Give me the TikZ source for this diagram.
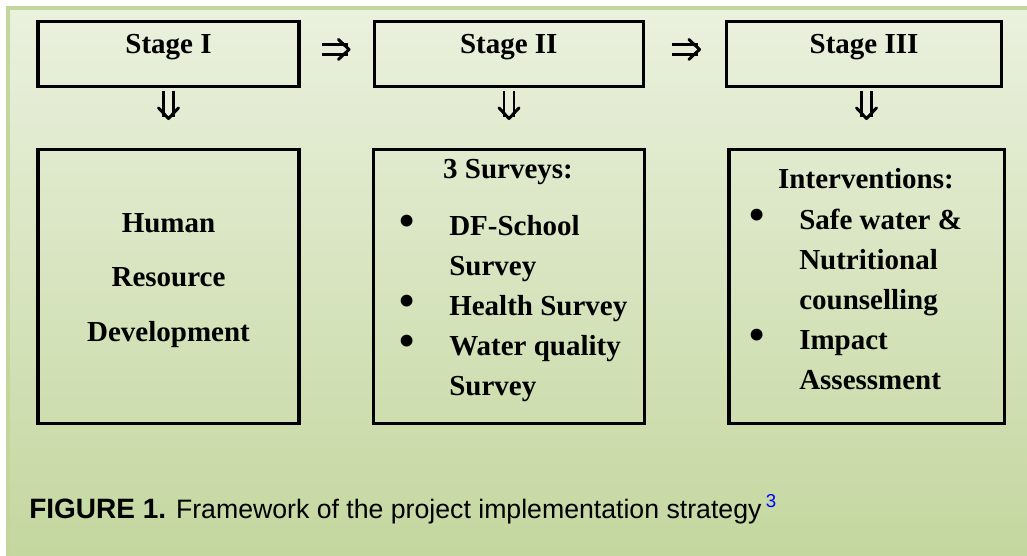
\documentclass[tikz,border=0pt]{standalone}
\usepackage{fontspec}
\setmainfont{Liberation Serif}
\setsansfont{Liberation Sans}
\usetikzlibrary{arrows.meta}

\definecolor{panetop}{HTML}{EAF1DE}
\definecolor{panebottom}{HTML}{C4D79F}
\definecolor{paneline}{HTML}{C3D69B}
\definecolor{gapgreen}{HTML}{E7EFDA}
\definecolor{refblue}{HTML}{0000FF}

\newcommand\bul{\makebox[0pt]{\scalebox{1.5}{\textbullet}}}

\begin{document}
\begin{tikzpicture}
[x=0.75pt,y=-0.75pt,font=\fontsize{21.75}{30}\selectfont\bfseries,
                    stage node/.style={draw,line width=2.6pt,inner sep=0pt,text height=24.2pt,text depth=24.2pt},
                    box node/.style={draw,line width=2.6pt,minimum height=205.1pt},
                    text node/.style={inner sep=0pt},
                    imp/.style={double=gapgreen,double distance=5.6pt,line width=1.8pt,
                      -{Straight Barb[length=8pt,width=15pt,line width=2.2pt,round]}}]

  \useasboundingbox (0,0) rectangle (1027,556);
  \shade[top color=panetop,bottom color=panebottom] (8,8) rectangle (1027,556);
  \draw[paneline,line width=2.5pt] (8,556) -- (8,8) -- (1027,8);

  \node[stage node,minimum width=196pt] (s1) at (168.5,54) {Stage I};
  \node[stage node,minimum width=201.75pt] (s2) at (508.75,54) {Stage II};
  \node[stage node,minimum width=205.9pt] (s3) at (864,54) {Stage III};

  \node[box node,minimum width=196pt] (b1) at (168.5,286.5) {};
  \node[box node,minimum width=202.9pt] (b2) at (509,286.5) {};
  \node[box node,minimum width=206.6pt] (b3) at (866.5,286.5) {};

  \node[text node,anchor=base] (hrd) at (168.5,232)
    {\begin{tabular}[t]{@{}c@{}}Human\\[11pt]Resource\\[11pt]Development\end{tabular}};
  \node[text node,anchor=base] (surveys) at (508,179) {3 Surveys:};
  \node[text node,anchor=base west] (surveylist) at (407,235)
    {\begin{tabular}[t]{@{}c@{\hspace{31.5pt}}l@{}}
      \bul & DF-School\\ & Survey\\ \bul & Health Survey\\ \bul & Water quality\\ & Survey
     \end{tabular}};
  \node[text node,anchor=base] (interv) at (866,188) {Interventions:};
  \node[text node,anchor=base west] (intervlist) at (757,229)
    {\begin{tabular}[t]{@{}c@{\hspace{31.5pt}}l@{}}
      \bul & Safe water \&\\ & Nutritional\\ & counselling\\ \bul & Impact\\ & Assessment
     \end{tabular}};

  \draw[imp,shorten <=16pt,shorten >=16.5pt] ([yshift=3.4pt]s1.east) -- ([yshift=3.4pt]s2.west);
  \draw[imp,shorten <=20pt,shorten >=18pt] ([yshift=3.4pt]s2.east) -- ([yshift=3.4pt]s3.west);
  \draw[imp,shorten <=2.25pt,shorten >=21pt] (s1.south) -- (b1.north);
  \draw[imp,shorten <=2.25pt,shorten >=21pt] (s2.south -| b2.north) -- (b2.north);
  \draw[imp,shorten <=2.25pt,shorten >=21pt] (s3.south -| b3.north) -- (b3.north);

  \node[text node,anchor=base west,font=\sffamily\fontsize{20}{24}\selectfont] (caption) at (29,518)
    {{\bfseries\fontsize{21}{24}\selectfont FIGURE 1.} Framework of the project implementation strategy\,\textsuperscript{\textcolor{refblue}{3}}};
\end{tikzpicture}
\end{document}
